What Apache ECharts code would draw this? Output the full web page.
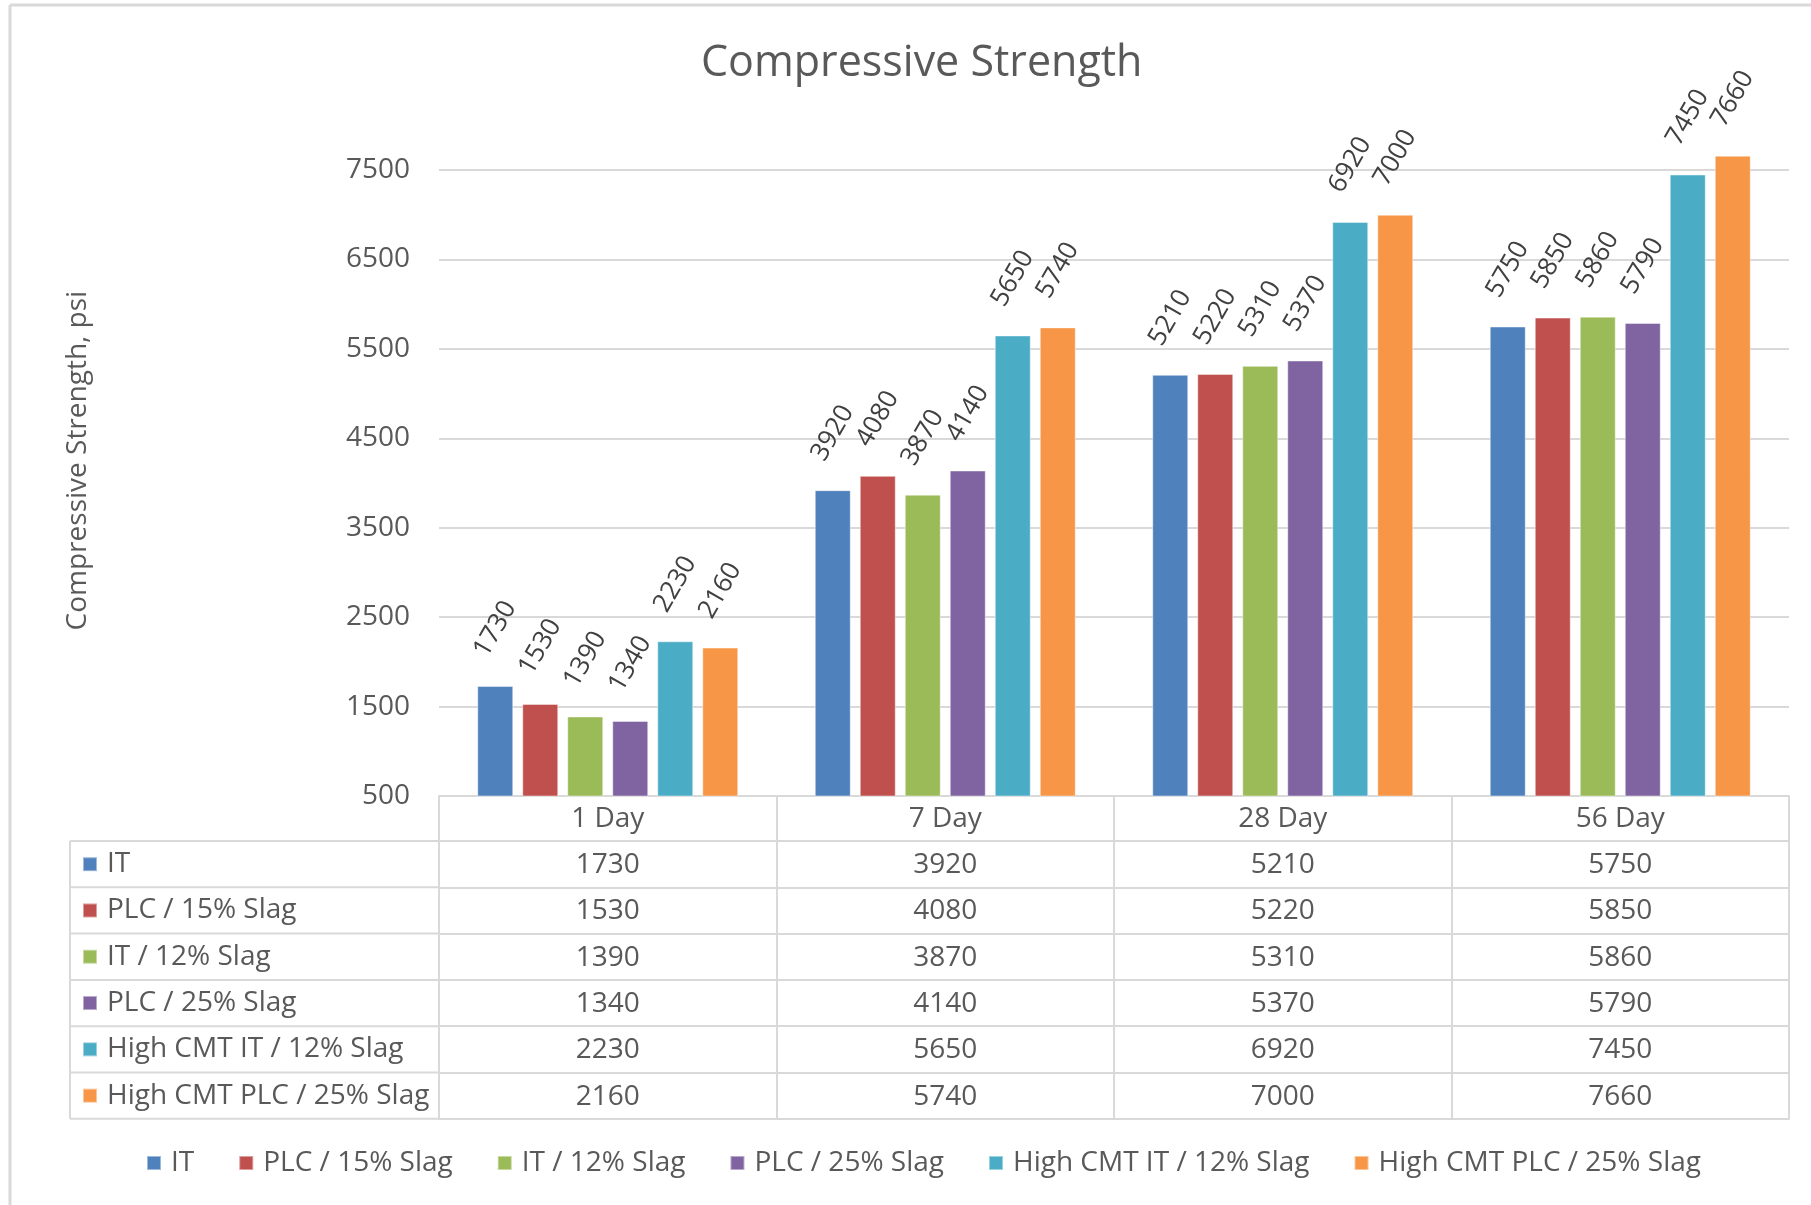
<!DOCTYPE html>
<html>
<head>
<meta charset="utf-8">
<title>Compressive Strength</title>
<script src="https://cdn.jsdelivr.net/npm/echarts@6/dist/echarts.min.js"></script>
<style>
  html, body { margin: 0; padding: 0; background: #fff; }
  #grafica { width: 1811px; height: 1205px; }
</style>
</head>
<body>
<div id="grafica"></div>
<script>
// datos
const categorias = ['1 Day', '7 Day', '28 Day', '56 Day'];
const nombres = ['IT', 'PLC / 15% Slag', 'IT / 12% Slag', 'PLC / 25% Slag', 'High CMT IT / 12% Slag', 'High CMT PLC / 25% Slag'];
const it = [1730, 3920, 5210, 5750];
const plc15 = [1530, 4080, 5220, 5850];
const it12 = [1390, 3870, 5310, 5860];
const plc25 = [1340, 4140, 5370, 5790];
const highIt12 = [2230, 5650, 6920, 7450];
const highPlc25 = [2160, 5740, 7000, 7660];
const colores = ['#4F81BD', '#C0504D', '#9BBB59', '#8064A2', '#4BACC6', '#F79646'];

const filas = [it, plc15, it12, plc25, highIt12, highPlc25];

// medidas de la tabla
const GRID_L = 439, GRID_R = 1789, AXIS_Y = 796;
const HEAD_H = 45, ROW_H = 46.3, TABLE_L = 70;
const fuente = 'Open Sans';
const gris = '#595959';
const linea = { color: '#d9d9d9', width: 2 };

var dom = document.getElementById('grafica');
var myChart = echarts.init(dom, null, { renderer: 'canvas' });

// eje de categorias + un eje por fila de la tabla
const ejesX = [{
  type: 'category',
  data: categorias,
  position: 'bottom',
  axisLine: { show: true, lineStyle: linea },
  axisTick: { show: true, length: HEAD_H + 6 * ROW_H, lineStyle: linea },
  axisLabel: { fontSize: 28, color: gris, fontFamily: fuente, margin: HEAD_H / 2 + 1, verticalAlign: 'middle' }
}];
for (let k = 0; k <= 6; k++) {
  ejesX.push({
    type: 'category',
    data: categorias,
    position: 'bottom',
    offset: HEAD_H + k * ROW_H,
    axisLine: { show: true, lineStyle: linea },
    axisTick: { show: false },
    axisLabel: {
      show: k < 6,
      formatter: function (v, i) { return k < 6 ? String(filas[k][i]) : ''; },
      fontSize: 28, color: gris, fontFamily: fuente,
      margin: ROW_H / 2 + 1, verticalAlign: 'middle'
    }
  });
}

// lineas de la columna de nombres y marco
const lineasTabla = [];
for (let k = 0; k <= 6; k++) {
  const y = AXIS_Y + HEAD_H + k * ROW_H;
  lineasTabla.push({ type: 'line', shape: { x1: TABLE_L, y1: y, x2: GRID_L, y2: y }, style: { stroke: '#d9d9d9', lineWidth: 2 } });
}
lineasTabla.push({ type: 'line', shape: { x1: TABLE_L, y1: AXIS_Y + HEAD_H, x2: TABLE_L, y2: AXIS_Y + HEAD_H + 6 * ROW_H }, style: { stroke: '#d9d9d9', lineWidth: 2 } });
lineasTabla.push({ type: 'line', shape: { x1: 10, y1: 5, x2: 1811, y2: 5 }, style: { stroke: '#d9d9d9', lineWidth: 3 } });
lineasTabla.push({ type: 'line', shape: { x1: 10, y1: 5, x2: 10, y2: 1205 }, style: { stroke: '#d9d9d9', lineWidth: 3 } });

var option = {
  animation: false,
  textStyle: { fontFamily: fuente },
  title: {
    text: 'Compressive Strength',
    left: 696,
    top: 37,
    textStyle: { fontSize: 43, fontWeight: 'normal', color: gris, fontFamily: fuente }
  },
  grid: { left: GRID_L, right: 1811 - GRID_R, top: 125.3, bottom: 1205 - AXIS_Y },
  legend: [{
    orient: 'vertical',
    left: 77,
    top: AXIS_Y + HEAD_H + (ROW_H - 30) / 2 - 5,
    itemWidth: 14, itemHeight: 14, itemGap: ROW_H - 30,
    icon: 'rect',
    selectedMode: false,
    textStyle: { fontSize: 28, color: gris, fontFamily: fuente, lineHeight: 30, padding: [0, 0, 0, 5] },
    data: nombres
  }, {
    orient: 'horizontal',
    left: 141,
    top: 1143,
    itemWidth: 14, itemHeight: 14, itemGap: 44,
    icon: 'rect',
    selectedMode: false,
    textStyle: { fontSize: 28, color: gris, fontFamily: fuente, lineHeight: 30, padding: [0, 0, 0, 5] },
    data: nombres
  }],
  xAxis: ejesX,
  yAxis: {
    type: 'value',
    min: 500, max: 8000, interval: 1000,
    name: 'Compressive Strength, psi',
    nameLocation: 'middle', nameRotate: 90, nameGap: 347,
    nameTextStyle: { fontSize: 28, color: gris, fontFamily: fuente },
    axisLine: { show: false },
    axisTick: { show: false },
    axisLabel: {
      showMaxLabel: false, margin: 29, fontSize: 28, color: gris, fontFamily: fuente,
      formatter: function (v) { return String(v); }
    },
    splitLine: { show: true, showMinLine: false, showMaxLine: false, lineStyle: linea }
  },
  graphic: lineasTabla,
  series: nombres.map(function (n, i) {
    return {
      name: n,
      type: 'bar',
      data: filas[i],
      barWidth: 36,
      barGap: '25%',
      itemStyle: { color: colores[i], borderColor: 'rgba(255,255,255,0.45)', borderWidth: 1 },
      label: {
        show: true,
        position: 'top',
        distance: 57,
        rotate: 60,
        align: 'center',
        verticalAlign: 'middle',
        fontSize: 26,
        color: '#404040',
        fontFamily: fuente
      }
    };
  })
};

myChart.setOption(option);
window.addEventListener('resize', myChart.resize);
</script>
</body>
</html>
